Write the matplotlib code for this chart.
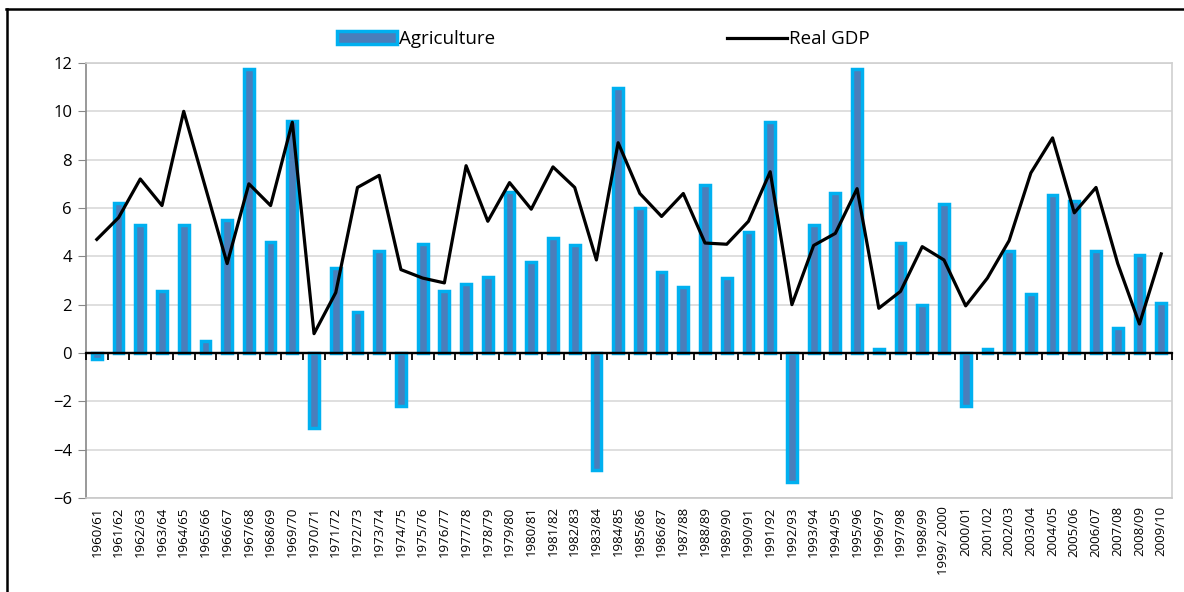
import numpy as np
import matplotlib
matplotlib.use("Agg")
import matplotlib.pyplot as plt
from matplotlib.lines import Line2D

years = ["1960/61", "1961/62", "1962/63", "1963/64", "1964/65", "1965/66", "1966/67",
         "1967/68", "1968/69", "1969/70", "1970/71", "1971/72", "1972/73", "1973/74",
         "1974/75", "1975/76", "1976/77", "1977/78", "1978/79", "1979/80", "1980/81",
         "1981/82", "1982/83", "1983/84", "1984/85", "1985/86", "1986/87", "1987/88",
         "1988/89", "1989/90", "1990/91", "1991/92", "1992/93", "1993/94", "1994/95",
         "1995/96", "1996/97", "1997/98", "1998/99", "1999/ 2000", "2000/01", "2001/02",
         "2002/03", "2003/04", "2004/05", "2005/06", "2006/07", "2007/08", "2008/09",
         "2009/10"]

agriculture = [-0.25, 6.2, 5.3, 2.55, 5.3, 0.5, 5.5, 11.75, 4.6, 9.6,
               -3.1, 3.5, 1.7, 4.2, -2.2, 4.5, 2.55, 2.85, 3.15, 6.65,
               3.75, 4.75, 4.45, -4.85, 10.95, 6.0, 3.35, 2.75, 6.95, 3.1,
               5.0, 9.55, -5.35, 5.3, 6.6, 11.75, 0.15, 4.55, 2.0, 6.15,
               -2.2, 0.15, 4.2, 2.45, 6.55, 6.3, 4.2, 1.05, 4.05, 2.05]

real_gdp = [4.7, 5.6, 7.2, 6.1, 10.0, 6.85, 3.7, 7.0, 6.1, 9.55,
            0.8, 2.5, 6.85, 7.35, 3.45, 3.1, 2.9, 7.75, 5.45, 7.05,
            5.95, 7.7, 6.85, 3.85, 8.7, 6.6, 5.65, 6.6, 4.55, 4.5,
            5.45, 7.5, 2.0, 4.45, 4.95, 6.8, 1.85, 2.55, 4.4, 3.85,
            1.95, 3.1, 4.65, 7.45, 8.9, 5.8, 6.85, 3.7, 1.2, 4.1]

x = np.arange(len(years))
font = ["Open Sans", "DejaVu Sans"]
plt.rcParams["font.family"] = font

fig = plt.figure(figsize=(11.84, 5.92), dpi=100)
ax = fig.add_axes([0.0726, 0.1588, 0.9173, 0.7348])

bars = ax.bar(x, agriculture, width=0.45, color="#4a7ebb", edgecolor="#00b0f0",
              linewidth=2.5, zorder=2, label="Agriculture")
line, = ax.plot(x, real_gdp, color="black", linewidth=2.3, zorder=4, label="Real GDP")

ax.set_xlim(-0.5, len(years) - 0.5)
ax.set_ylim(-6, 12)
ax.set_yticks(np.arange(-6, 13, 2))
ax.yaxis.grid(True, color="#d9d9d9", linewidth=1.2, zorder=0)
ax.set_axisbelow(True)

ax.set_xticks(x)
ax.set_xticklabels(years, rotation=90, fontsize=9.5)
ax.tick_params(axis="x", length=0, pad=6)
ax.tick_params(axis="y", length=6, color="#888888", labelsize=12, pad=4)

for s in ["top", "right"]:
    ax.spines[s].set_color("#d0d0d0")
    ax.spines[s].set_linewidth(1.2)
ax.spines["bottom"].set_color("#c8c8c8")
ax.spines["bottom"].set_linewidth(1.2)
ax.spines["left"].set_color("#888888")
ax.spines["left"].set_linewidth(1.2)

# zero axis line with category boundary ticks
ax.axhline(0, color="black", linewidth=1.6, zorder=3)
zero = ax.secondary_xaxis(6 / 18)
zero.set_zorder(5)
zero.set_xticks(np.arange(-0.5, len(years), 1))
zero.set_xticklabels([])
zero.xaxis.set_ticks_position("bottom")
zero.tick_params(axis="x", direction="out", length=5, width=1.3, color="black")
zero.spines["bottom"].set_color("black")
zero.spines["bottom"].set_linewidth(1.6)

fig.legend(handles=[bars, line], loc="center", bbox_to_anchor=(0.5097, 0.934), ncol=2,
           frameon=False, fontsize=13.5, handlelength=3.2, columnspacing=12.4,
           handletextpad=0.1)

# outer frame (top and left edges visible)
fig.add_artist(Line2D([0.005, 1.0], [0.985, 0.985], color="black", linewidth=1.8,
                      transform=fig.transFigure))
fig.add_artist(Line2D([0.0055, 0.0055], [0.0, 0.985], color="black", linewidth=1.8,
                      transform=fig.transFigure))

fig.savefig("out.png", dpi=100)
